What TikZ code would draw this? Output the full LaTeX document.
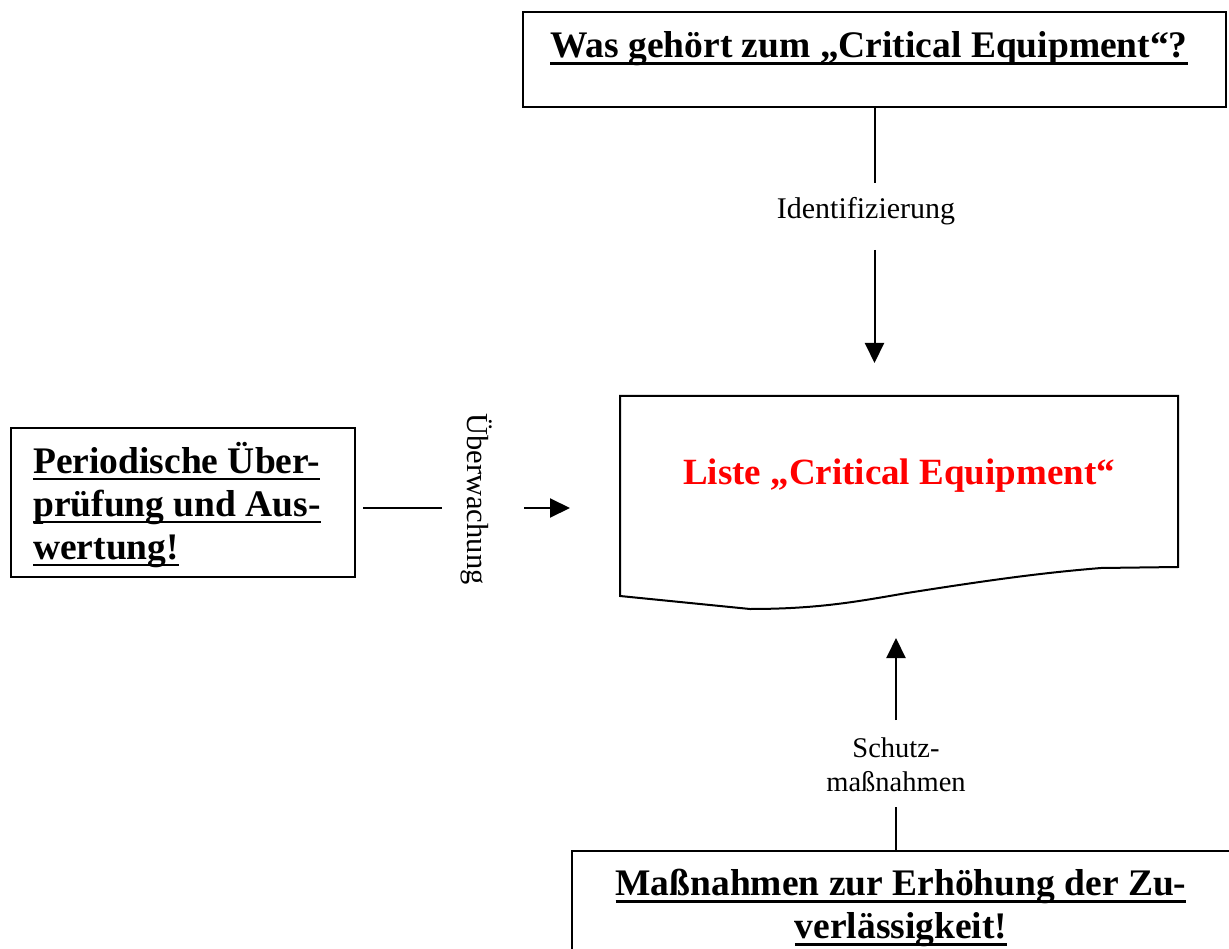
\documentclass[tikz,border=0pt]{standalone}
\usepackage{fontspec}
\setmainfont{Liberation Serif}
\usetikzlibrary{arrows.meta}
\newcommand\myul[1]{\setbox0\hbox{#1}\rlap{\rule[-7pt]{\wd0}{2.8pt}}\box0}
\tikzset{
  frame/.style={draw, line width=1.6pt, inner sep=0pt},
  bigtxt/.style={font=\fontsize{37.5}{43}\selectfont\bfseries, inner sep=0pt},
  lbl/.style={font=\fontsize{30}{34}\selectfont, inner sep=0pt, align=center},
  conn/.style={line width=2pt},
  arr/.style={line width=2pt, -{Triangle[length=20pt,width=19pt]}},
}
\begin{document}
\begin{tikzpicture}[x=1pt,y=-1pt]
\useasboundingbox (0,0) rectangle (1229,949);
\clip (0,0) rectangle (1229,949);
% top box
\node[frame, minimum width=703pt, minimum height=95pt] (q) at (874.5,59.5) {};
\node[bigtxt] (qt) at (869,49) {\myul{Was gehört zum „Critical Equipment“?}};
% identification label
\coordinate (c1) at (874.5,183);
\node[lbl] (ident) at (866,211) {Identifizierung};
\coordinate (c2) at (874.5,250);
\coordinate (c3) at (874.5,363);
\draw[conn] (q.south) -- (c1);
\draw[arr] (c2) -- (c3);
% left box
\node[frame, minimum width=344pt, minimum height=149pt] (p) at (183,502.5) {};
\node[bigtxt, align=left, anchor=west] (pt) at (33,505) {\myul{Periodische Über-}\\\myul{prüfung und Aus-}\\\myul{wertung!}};
\coordinate (d1) at (363,507.5);
\coordinate (d2) at (442,507.5);
\node[lbl, font=\fontsize{30.5}{34}\selectfont, rotate=-90] (ueb) at (477,499) {Überwachung};
\coordinate (d3) at (524,508);
\coordinate (d4) at (570,508);
\draw[conn] (d1) -- (d2);
\draw[arr] (d3) -- (d4);
% document shape
\draw[line width=2pt, line join=miter] (620,396) -- (1178,396) -- (1178,567)
  -- (1101,568) .. controls (1040,573) and (990,580) .. (907,593)
  .. controls (860,601) and (820,609) .. (750,609) -- (620,596) -- cycle;
\node[font=\fontsize{37}{42}\selectfont\bfseries, text=red, inner sep=0pt] (list) at (899,476) {Liste „Critical Equipment“};
% bottom connector
\coordinate (e1) at (896,638);
\coordinate (e2) at (896,720);
\node[lbl, font=\fontsize{28.5}{34}\selectfont] (schutz) at (896,765) {Schutz-\\maßnahmen};
\coordinate (e3) at (896,807);
\draw[arr] (e2) -- (e1);
% bottom box
\node[frame, anchor=north west, minimum width=700pt, minimum height=150pt] (m) at (571,850) {};
\coordinate (e4) at (896,850);
\draw[conn] (e3) -- (e4);
\node[bigtxt, align=center] (mt) at (901,908) {\myul{Maßnahmen zur Erhöhung der Zu-}\\\myul{verlässigkeit!}};
\end{tikzpicture}
\end{document}
